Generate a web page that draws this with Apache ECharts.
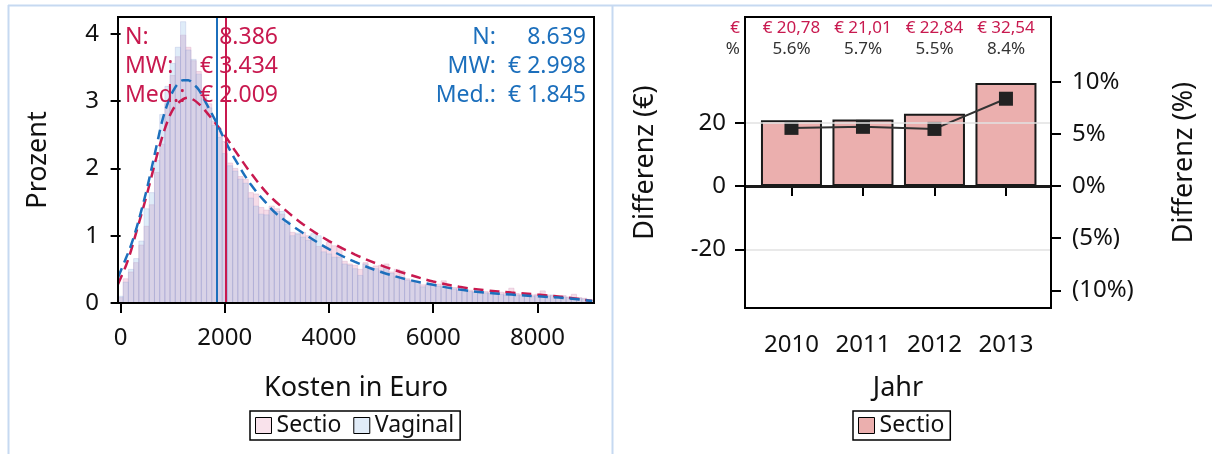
<!DOCTYPE html>
<html><head><meta charset="utf-8">
<script src="https://cdn.jsdelivr.net/npm/echarts@6/dist/echarts.min.js"></script>
<style>html,body{margin:0;padding:0;background:#fff}#c{width:1212px;height:454px}</style>
</head><body><div id="c"></div>
<script>
// ---------------- data ----------------
const binWidth = 100;            // histogram bin width (Euro), bins centred at 0,100,...,9000
const sectioHist = [0.08,0.36,0.46,0.60,0.86,1.14,1.46,1.94,2.36,2.96,3.38,3.66,3.98,3.80,3.60,3.44,3.08,2.96,2.70,2.55,
  2.40,2.08,2.00,1.88,1.84,1.64,1.62,1.42,1.38,1.44,1.40,1.32,1.17,1.05,1.02,1.05,1.00,0.93,0.84,0.82,
  0.90,0.85,0.83,0.62,0.58,0.56,0.50,0.60,0.53,0.55,0.56,0.58,0.46,0.50,0.48,0.36,0.33,0.32,0.27,0.28,
  0.27,0.28,0.33,0.25,0.23,0.22,0.20,0.19,0.18,0.18,0.17,0.16,0.15,0.16,0.15,0.22,0.14,0.13,0.14,0.12,
  0.13,0.18,0.12,0.11,0.10,0.11,0.09,0.13,0.08,0.07,0.05];
const vaginalHist = [0.10,0.31,0.50,0.66,0.92,1.40,1.64,2.12,2.80,3.22,3.56,3.80,4.18,3.76,3.62,3.40,3.04,2.90,2.64,2.46,
  2.22,2.04,1.96,1.84,1.78,1.56,1.44,1.32,1.31,1.38,1.36,1.36,1.22,1.00,1.04,0.98,0.93,1.03,1.00,0.76,
  0.73,0.68,0.68,0.58,0.56,0.51,0.41,0.58,0.51,0.51,0.48,0.51,0.44,0.39,0.36,0.34,0.31,0.31,0.24,0.26,
  0.26,0.25,0.24,0.22,0.21,0.19,0.18,0.17,0.16,0.15,0.15,0.14,0.13,0.13,0.12,0.12,0.12,0.11,0.12,0.10,
  0.11,0.10,0.10,0.12,0.09,0.09,0.08,0.08,0.07,0.06,0.04];
const curveX = [-50,100,200,300,400,500,600,700,800,900,1000,1100,1200,1300,1400,1500,1600,1800,2000,2200,
  2500,2800,3000,3500,4000,4500,5000,5500,6000,6500,7000,7500,8000,8500,9050];
const sectioCurve = [0.28,0.55,0.78,1.05,1.32,1.60,1.90,2.20,2.47,2.70,2.87,2.97,3.03,3.05,3.02,2.96,2.88,2.69,2.49,2.26,
  1.93,1.64,1.49,1.17,0.92,0.72,0.56,0.43,0.32,0.24,0.19,0.155,0.125,0.09,0.03];
const vaginalCurve = [0.38,0.66,0.86,1.10,1.38,1.68,2.02,2.37,2.71,2.96,3.14,3.26,3.31,3.31,3.25,3.17,3.03,2.74,2.42,2.13,
  1.76,1.48,1.32,1.04,0.80,0.61,0.46,0.35,0.27,0.20,0.155,0.125,0.10,0.075,0.03];
const sectioMedian = 2009, vaginalMedian = 1845;
const statLabels = ['N:', 'MW:', 'Med.:'];
const sectioStats = ['8.386', '€ 3.434', '€ 2.009'];
const vaginalStats = ['8.639', '€ 2.998', '€ 1.845'];
const kostenTicks = [0, 2000, 4000, 6000, 8000];
const prozentTicks = [0, 1, 2, 3, 4];

const years = [2010, 2011, 2012, 2013];
const diffEuro = [20.78, 21.01, 22.84, 32.54];
const diffPct = [5.6, 5.7, 5.5, 8.4];
const euroLabels = ['€ 20,78', '€ 21,01', '€ 22,84', '€ 32,54'];
const pctLabels = ['5.6%', '5.7%', '5.5%', '8.4%'];
const euroTicks = [-20, 0, 20];
const pctTicks = [-10, -5, 0, 5, 10];
const gridValues = [-20, 20];

// ---------------- style ----------------
const FONT = '"Noto Sans", "Open Sans", sans-serif';
const RED = '#C8194F', BLUE = '#1C6FBC';
const G0 = {left:118, top:17, width:476, height:286};
const G1 = {left:745, top:17, width:306, height:291};

const hist = (arr) => arr.map((v, i) => [i * binWidth, v]);
const zip = (xs, ys) => xs.map((x, i) => [x, ys[i]]);

function histItem(fill, stroke) {
  return function (params, api) {
    const x = api.value(0), y = api.value(1);
    const a = api.coord([x - binWidth / 2, y]);
    const b = api.coord([x + binWidth / 2, 0]);
    return {type:'rect', shape:{x:a[0], y:a[1], width:b[0]-a[0], height:b[1]-a[1]},
            style:{fill:fill, stroke:stroke, lineWidth:0.8}};
  };
}
const tickStyle = {show:true, length:10, lineStyle:{color:'#000', width:2}};
const lab = (extra) => Object.assign({fontSize:24, color:'#111', fontFamily:FONT}, extra);
const nameStyle = {fontSize:27, color:'#111', fontFamily:FONT};
const noMark = {symbol:['none','none'], silent:true, animation:false, label:{show:false}};

const chart = echarts.init(document.getElementById('c'));
chart.setOption({
  animation:false,
  backgroundColor:'#fff',
  grid:[Object.assign({show:false}, G0), Object.assign({show:false}, G1)],
  xAxis:[
    {gridIndex:0, type:'value', min:-50, max:9085, axisLine:{show:false},
     axisTick:Object.assign({customValues:kostenTicks}, tickStyle),
     axisLabel:lab({customValues:kostenTicks, margin:23, formatter:v => String(v)}),
     splitLine:{show:false}, name:'Kosten in Euro', nameLocation:'middle', nameGap:72, nameTextStyle:nameStyle},
    {gridIndex:1, type:'value', min:2009.35, max:2013.63, axisLine:{show:false},
     axisTick:Object.assign({customValues:years}, tickStyle),
     axisLabel:lab({customValues:years, margin:25, formatter:v => String(v)}),
     splitLine:{show:false}, name:'Jahr', nameLocation:'middle', nameGap:67, nameTextStyle:nameStyle}
  ],
  yAxis:[
    {gridIndex:0, type:'value', min:0, max:4.25, axisLine:{show:false},
     axisTick:Object.assign({customValues:prozentTicks}, tickStyle),
     axisLabel:lab({customValues:prozentTicks, margin:19}),
     splitLine:{show:false}, name:'Prozent', nameLocation:'middle', nameGap:66, nameTextStyle:nameStyle},
    {gridIndex:1, type:'value', min:-38.5, max:53.4, axisLine:{show:false},
     axisTick:Object.assign({customValues:euroTicks}, tickStyle),
     axisLabel:lab({customValues:euroTicks, margin:19}),
     splitLine:{show:false}, name:'Differenz (€)', nameLocation:'middle', nameGap:86, nameTextStyle:nameStyle},
    {gridIndex:1, type:'value', position:'right', min:-11.7, max:16.25, axisLine:{show:false},
     axisTick:Object.assign({customValues:pctTicks}, tickStyle),
     axisLabel:lab({customValues:pctTicks, margin:21, formatter:v => v < 0 ? '(' + (-v) + '%)' : v + '%'}),
     splitLine:{show:false}, name:'Differenz (%)', nameLocation:'middle', nameGap:120, nameTextStyle:nameStyle}
  ],
  legend:[
    {left:250, top:411, selectedMode:false, borderColor:'#000', borderWidth:1.5, padding:[3,6,3,5],
     itemWidth:16, itemHeight:16, itemGap:12, textStyle:{fontSize:23, color:'#111', fontFamily:FONT},
     data:[{name:'Sectio', icon:'rect', itemStyle:{color:'#F9E2EB', borderColor:'#000', borderWidth:1}},
           {name:'Vaginal', icon:'rect', itemStyle:{color:'#E1ECF8', borderColor:'#000', borderWidth:1}}]},
    {left:853, top:411, selectedMode:false, borderColor:'#000', borderWidth:1.5, padding:[3,6,3,5],
     itemWidth:16, itemHeight:16, textStyle:{fontSize:23, color:'#111', fontFamily:FONT},
     data:[{name:'Sectio', icon:'rect', itemStyle:{color:'#EBAFAE', borderColor:'#000', borderWidth:1}}]}
  ],
  series:[
    {name:'Sectio', type:'custom', xAxisIndex:0, yAxisIndex:0, clip:true, z:1,
     renderItem:histItem('#F6DCE8', 'rgba(222,180,205,0.6)'), data:hist(sectioHist), itemStyle:{color:'#F9E2EB'}},
    {name:'Vaginal', type:'custom', xAxisIndex:0, yAxisIndex:0, clip:true, z:1,
     renderItem:histItem('rgba(140,185,230,0.28)', 'rgba(150,160,210,0.35)'), data:hist(vaginalHist), itemStyle:{color:'#E1ECF8'}},
    {name:'Sectio Dichte', type:'line', xAxisIndex:0, yAxisIndex:0, smooth:0.35, showSymbol:false, z:3,
     lineStyle:{color:RED, width:2.5, type:[10,6]}, data:zip(curveX, sectioCurve),
     markLine:Object.assign({lineStyle:{color:RED, width:2, type:'solid'}, data:[{xAxis:sectioMedian}]}, noMark)},
    {name:'Vaginal Dichte', type:'line', xAxisIndex:0, yAxisIndex:0, smooth:0.35, showSymbol:false, z:3,
     lineStyle:{color:BLUE, width:2.5, type:[10,6]}, data:zip(curveX, vaginalCurve),
     markLine:Object.assign({lineStyle:{color:BLUE, width:2, type:'solid'}, data:[{xAxis:vaginalMedian}]}, noMark)},
    {name:'Raster', type:'line', xAxisIndex:1, yAxisIndex:1, data:[], z:0,
     markLine:Object.assign({lineStyle:{color:'#E2E2E2', width:1.5, type:'solid'}, data:gridValues.map(v => ({yAxis:v}))}, noMark)},
    {name:'Sectio', type:'bar', xAxisIndex:1, yAxisIndex:1, barWidth:61, z:2, data:zip(years, diffEuro),
     itemStyle:{color:'#EBAFAE', borderColor:'#1a1a1a', borderWidth:2},
     markLine:Object.assign({lineStyle:{color:'#1a1a1a', width:3, type:'solid'}, data:[{yAxis:0}]}, noMark)},
    {name:'Differenz %', type:'line', xAxisIndex:1, yAxisIndex:2, z:4, data:zip(years, diffPct),
     symbol:'rect', symbolSize:14, itemStyle:{color:'#222'}, lineStyle:{color:'#333', width:2}}
  ]
});

// ---------------- annotations (text) ----------------
const txt = (t, x, y, size, color, align) => ({type:'text', x:x, y:y, silent:true, z:100,
  style:{text:t, fill:color, font:size + 'px ' + FONT, align:align, textAlign:align, verticalAlign:'middle', textVerticalAlign:'middle'}});
const g = [];
const rowY = [37, 66, 95];
statLabels.forEach((l, i) => {
  g.push(txt(l, 125, rowY[i], 23, RED, 'left'));
  g.push(txt(sectioStats[i], 278, rowY[i], 23, RED, 'right'));
  g.push(txt(l, 496, rowY[i], 23, BLUE, 'right'));
  g.push(txt(vaginalStats[i], 586, rowY[i], 23, BLUE, 'right'));
});
g.push(txt('€', 740, 28, 17, RED, 'right'));
g.push(txt('%', 740, 49, 17, '#333', 'right'));
years.forEach((yr, i) => {
  const px = chart.convertToPixel({xAxisIndex:1}, yr);
  g.push(txt(euroLabels[i], px, 28, 17, RED, 'center'));
  g.push(txt(pctLabels[i], px, 49, 17, '#333', 'center'));
});
// frames
[G0, G1].forEach(G => g.push({type:'rect', z:90, silent:true, shape:{x:G.left, y:G.top, width:G.width, height:G.height},
  style:{fill:null, stroke:'#000', lineWidth:2}}));
// page borders
const bc = '#C6D9F1';
g.push({type:'line', z:90, silent:true, shape:{x1:8, y1:5.5, x2:1212, y2:5.5}, style:{stroke:bc, lineWidth:2}});
g.push({type:'line', z:90, silent:true, shape:{x1:8.5, y1:5, x2:8.5, y2:454}, style:{stroke:bc, lineWidth:2}});
g.push({type:'line', z:90, silent:true, shape:{x1:612.5, y1:5, x2:612.5, y2:454}, style:{stroke:bc, lineWidth:2}});
chart.setOption({graphic:g});
</script></body></html>
